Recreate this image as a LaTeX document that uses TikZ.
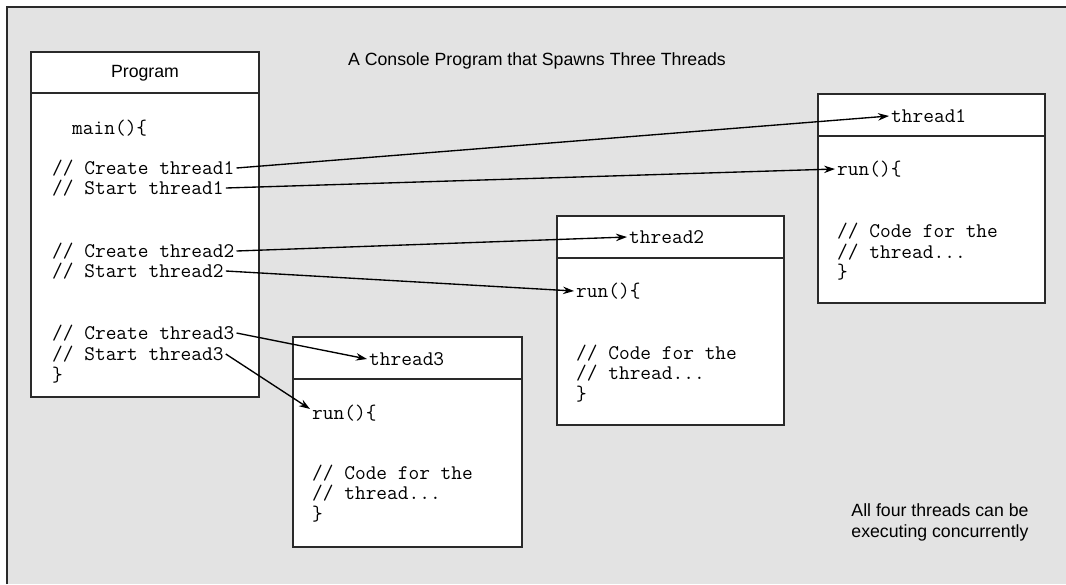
\documentclass[tikz,border=0pt]{standalone}
\usepackage{fontspec}
\setmainfont{Liberation Sans}
\usetikzlibrary{arrows.meta}
\definecolor{bggray}{HTML}{E3E3E3}
\definecolor{edge}{HTML}{2A2A2A}
\begin{document}
\begin{tikzpicture}[x=1pt,y=-1pt,
  box/.style={draw=edge, fill=white, line width=1.3pt},
  code/.style={font=\ttfamily\fontsize{20.8}{22}\selectfont, inner sep=2pt, anchor=west},
  sans/.style={font=\fontsize{17.7}{21}\selectfont, inner sep=0pt},
  arr/.style={-{Stealth[length=11pt,width=7.5pt]}, line width=1.35pt, draw=black}]
\useasboundingbox (0,0) rectangle (1066,584);
\fill[bggray] (7,7) rectangle (1066,584);
\draw[edge, line width=2pt] (7,584) -- (7,7) -- (1066,7);

\node[sans] (title) at (537,61) {A Console Program that Spawns Three Threads};
\node[sans, align=center] (note) at (940,522) {All four threads can be\\executing concurrently};

% Program box
\draw[box] (31,52) rectangle (259,397);
\draw[edge, line width=1.3pt] (31,93) -- (259,93);
\node[sans] (prog) at (145,73) {Program};
\node[code] (main) at (70,128) {main()\{};
\node[code] (c1) at (50,168) {// Create thread1};
\node[code] (s1) at (50,188) {// Start thread1};
\node[code] (c2) at (50,251) {// Create thread2};
\node[code] (s2) at (50,271) {// Start thread2};
\node[code] (c3) at (50,333) {// Create thread3};
\node[code] (s3) at (50,354) {// Start thread3};
\node[code] (pend) at (50,375) {\}};

% thread1 box
\draw[box] (818,94) rectangle (1045,303);
\draw[edge, line width=1.3pt] (818,136) -- (1045,136);
\node[code] (t1) at (889,116) {thread1};
\node[code] (r1) at (835,169) {run()\{};
\node[code] (k1a) at (835,231) {// Code for the};
\node[code] (k1b) at (835,252) {// thread...};
\node[code] (k1c) at (835,272) {\}};

% thread2 box
\draw[box] (557,216) rectangle (784,425);
\draw[edge, line width=1.3pt] (557,258) -- (784,258);
\node[code] (t2) at (627,237) {thread2};
\node[code] (r2) at (574,291) {run()\{};
\node[code] (k2a) at (574,353) {// Code for the};
\node[code] (k2b) at (574,373) {// thread...};
\node[code] (k2c) at (574,394) {\}};

% thread3 box
\draw[box] (293,337) rectangle (522,547);
\draw[edge, line width=1.3pt] (293,379) -- (522,379);
\node[code] (t3) at (367,359) {thread3};
\node[code] (r3) at (310,413) {run()\{};
\node[code] (k3a) at (310,473) {// Code for the};
\node[code] (k3b) at (310,493) {// thread...};
\node[code] (k3c) at (310,514) {\}};

% connectors
\draw[arr] (c1.east) -- (t1.west);
\draw[arr] (s1.east) -- (r1.west);
\draw[arr] (c2.east) -- (t2.west);
\draw[arr] (s2.east) -- (r2.west);
\draw[arr] (c3.east) -- (t3.west);
\draw[arr] (s3.east) -- ([yshift=4pt]r3.west);
\end{tikzpicture}
\end{document}
